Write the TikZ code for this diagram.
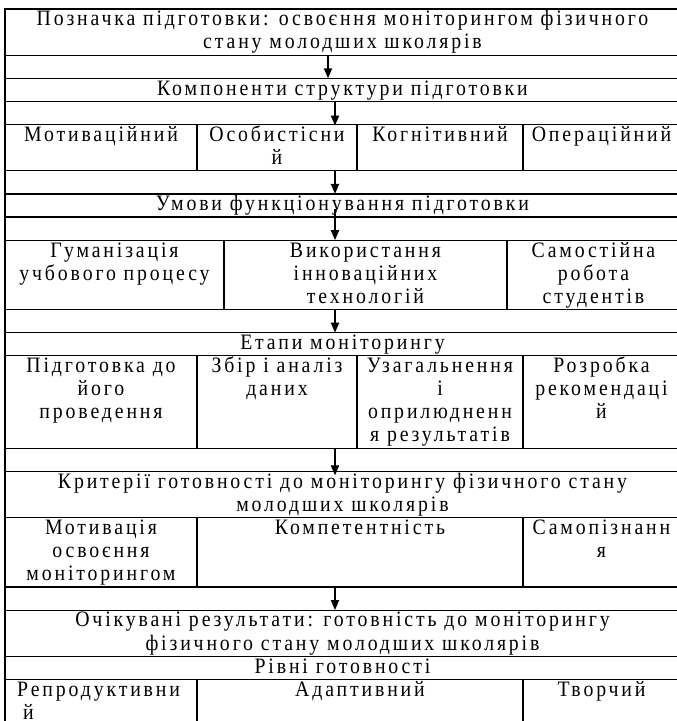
\documentclass[tikz,border=0pt]{standalone}
\usepackage{fontspec}
\setmainfont{Liberation Serif}[LetterSpace=13,FakeStretch=0.9]
\usetikzlibrary{arrows.meta}
\newcommand\cbox[5]{\node[cell, minimum width=#3pt-#2pt, minimum height=#5pt-#4pt] (#1) at (#2,#4) {};}
\newcommand\ctext[2]{\node[txt] (#1-t) at ([yshift=-16.8pt]#1.north) {\begin{tabular}[t]{@{}c@{}}#2\end{tabular}};}
\tikzset{
  cell/.style={draw, line width=1.2pt, rectangle, inner sep=0pt, outer sep=0pt, anchor=north west},
  txt/.style={inner sep=0pt, anchor=base, font=\fontsize{22}{23.12}\selectfont},
  arr/.style={line width=1.8pt, -{Triangle[length=10pt,width=8pt]}},
}
\begin{document}
\begin{tikzpicture}[x=1pt,y=-1pt]
\useasboundingbox (0,0) rectangle (677,721);
\fill[white] (0,0) rectangle (677,721);
% rows
\cbox{t0}{5}{680}{9}{55.24}
\cbox{e1}{5}{680}{55.24}{78.36}
\cbox{komp}{5}{680}{78.36}{101.48}
\cbox{e2}{5}{680}{101.48}{124.6}
\cbox{c1}{5}{197}{124.6}{170.84}
\cbox{c2}{197}{357}{124.6}{170.84}
\cbox{c3}{357}{523}{124.6}{170.84}
\cbox{c4}{523}{680}{124.6}{170.84}
\cbox{e3}{5}{680}{170.84}{193.96}
\cbox{umovy}{5}{680}{193.96}{217.08}
\cbox{e4}{5}{680}{217.08}{240.2}
\cbox{u1}{5}{224}{240.2}{309.56}
\cbox{u2}{224}{507}{240.2}{309.56}
\cbox{u3}{507}{680}{240.2}{309.56}
\cbox{e5}{5}{680}{309.56}{332.68}
\cbox{etapy}{5}{680}{332.68}{355.8}
\cbox{s1}{5}{197}{355.8}{448.28}
\cbox{s2}{197}{357}{355.8}{448.28}
\cbox{s3}{357}{523}{355.8}{448.28}
\cbox{s4}{523}{680}{355.8}{448.28}
\cbox{e6}{5}{680}{448.28}{471.4}
\cbox{krit}{5}{680}{471.4}{517.64}
\cbox{k1}{5}{197}{517.64}{587}
\cbox{k2}{197}{523}{517.64}{587}
\cbox{k3}{523}{680}{517.64}{587}
\cbox{e7}{5}{680}{587}{610.12}
\cbox{ochik}{5}{680}{610.12}{656.36}
\cbox{rivni}{5}{680}{656.36}{679.48}
\cbox{l1}{5}{197}{679.48}{725.72}
\cbox{l2}{197}{523}{679.48}{725.72}
\cbox{l3}{523}{680}{679.48}{725.72}
% texts
\ctext{t0}{Позначка підготовки: освоєння моніторингом фізичного\\стану молодших школярів}
\ctext{komp}{Компоненти структури підготовки}
\ctext{c1}{Мотиваційний}
\ctext{c2}{Особистісни\\й}
\ctext{c3}{Когнітивний}
\ctext{c4}{Операційний}
\ctext{umovy}{Умови функціонування підготовки}
\ctext{u1}{Гуманізація\\учбового процесу}
\ctext{u2}{Використання\\інноваційних\\технологій}
\ctext{u3}{Самостійна\\робота\\студентів}
\ctext{etapy}{Етапи моніторингу}
\ctext{s1}{Підготовка до\\його\\проведення}
\ctext{s2}{Збір і аналіз\\даних}
\ctext{s3}{Узагальнення\\і\\оприлюдненн\\я результатів}
\ctext{s4}{Розробка\\рекомендаці\\й}
\ctext{krit}{Критерії готовності до моніторингу фізичного стану\\молодших школярів}
\ctext{k1}{Мотивація\\освоєння\\моніторингом}
\ctext{k2}{Компетентність}
\ctext{k3}{Самопізнанн\\я}
\ctext{ochik}{Очікувані результати: готовність до моніторингу\\фізичного стану молодших школярів}
\ctext{rivni}{Рівні готовності}
\node[txt, anchor=base west] (l1-t) at ([xshift=12pt,yshift=-16.8pt]l1.north west) {\begin{tabular}[t]{@{}l@{}}Репродуктивни\\\hspace{6pt}й\end{tabular}};
\ctext{l2}{Адаптивний}
\ctext{l3}{Творчий}
% arrows
\coordinate (ax1) at (328,0);
\coordinate (ax) at (335,0);
\draw[arr] (e1.north -| ax1) -- (e1.south -| ax1);
\draw[arr] (e2.north -| ax) -- ([yshift=-1pt]e2.south -| ax);
\draw[arr] (e3.north -| ax) -- (e3.south -| ax);
\draw[arr] ([yshift=8pt]e4.north -| ax) -- (e4.south -| ax);
\draw[arr] (e5.north -| ax) -- (e5.south -| ax);
\draw[arr] (e6.north -| ax) -- ([yshift=-4pt]e6.south -| ax);
\draw[arr] (e7.north -| ax) -- (e7.south -| ax);
\end{tikzpicture}
\end{document}
